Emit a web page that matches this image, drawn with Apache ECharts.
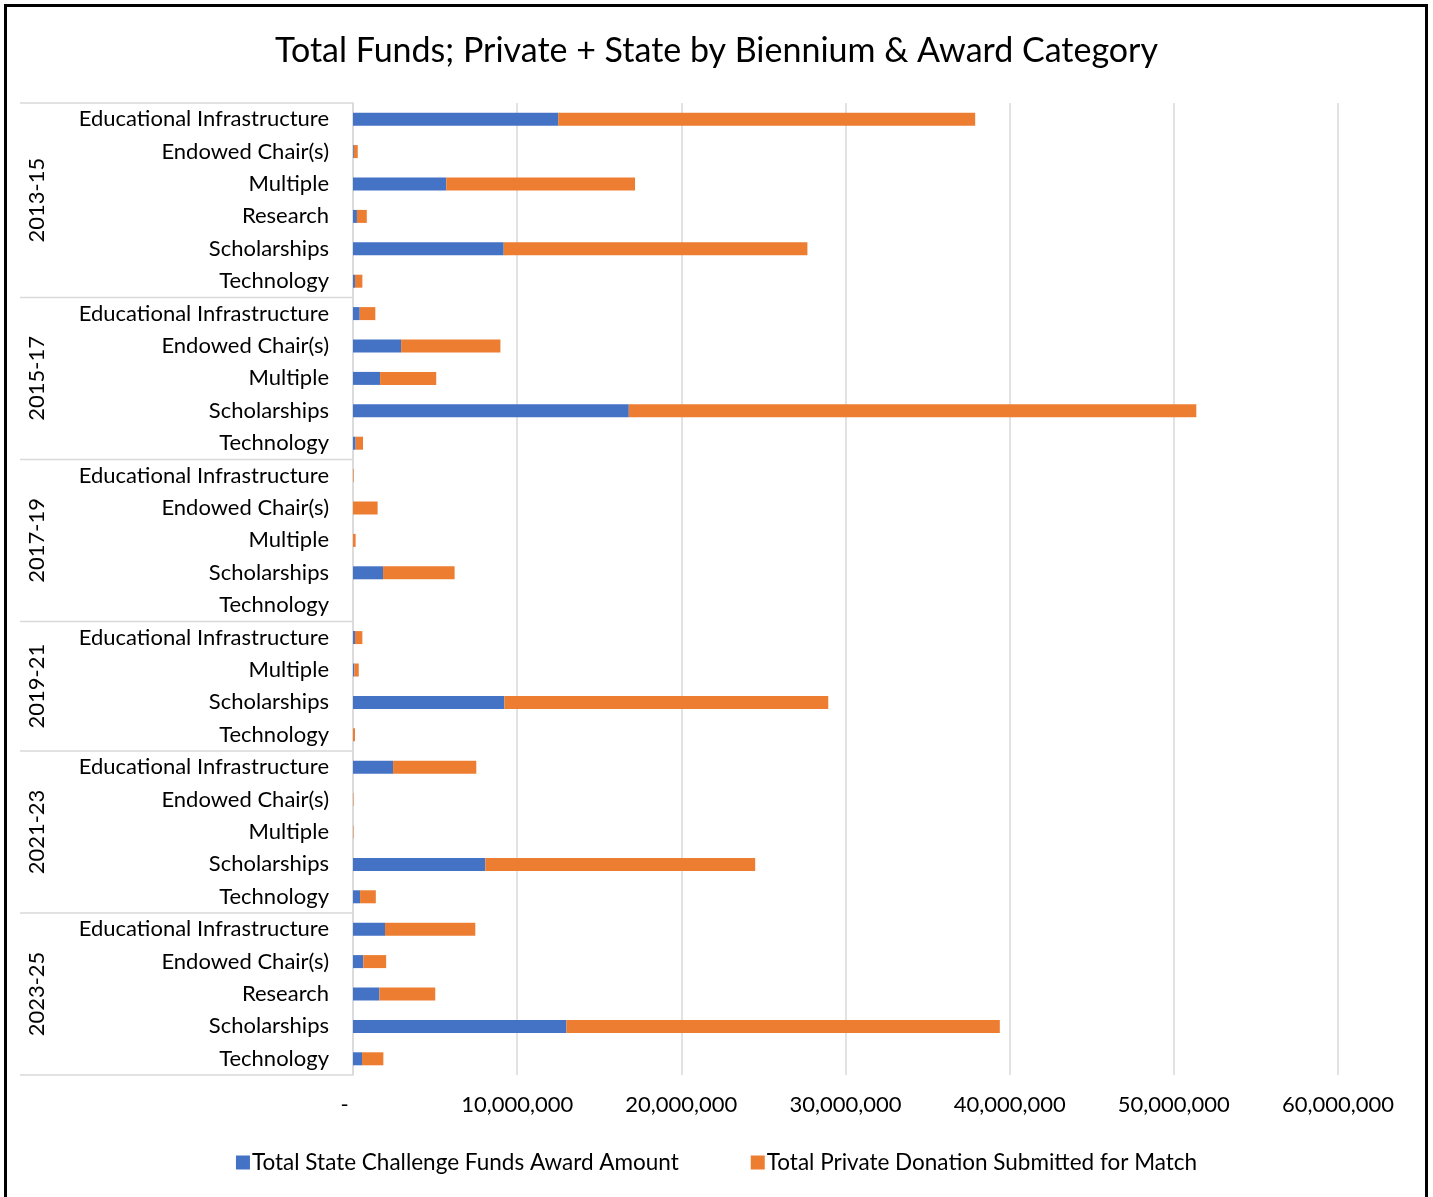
<!DOCTYPE html>
<html>
<head>
<meta charset="utf-8">
<script src="https://cdn.jsdelivr.net/npm/echarts@6/dist/echarts.min.js"></script>
<style>
  html, body { margin: 0; padding: 0; background: #fff; }
  #wrap { position: relative; width: 1433px; height: 1197px; overflow: hidden; }
  #chart { position: absolute; left: 0; top: 0; width: 1433px; height: 1197px; }
  #frame { position: absolute; left: 4px; top: 4px; width: 1424px; height: 1200px; border: 3px solid #000; pointer-events: none; box-sizing: border-box; }
</style>
</head>
<body>
<div id="wrap"><div id="chart"></div><div id="frame"></div></div>
<script>
const titleText = 'Total Funds; Private + State by Biennium & Award Category';
const bienniums = ['2013-15', '2015-17', '2017-19', '2019-21', '2021-23', '2023-25'];
const groupCategories = [
  ['Educational Infrastructure', 'Endowed Chair(s)', 'Multiple', 'Research', 'Scholarships', 'Technology'],
  ['Educational Infrastructure', 'Endowed Chair(s)', 'Multiple', 'Scholarships', 'Technology'],
  ['Educational Infrastructure', 'Endowed Chair(s)', 'Multiple', 'Scholarships', 'Technology'],
  ['Educational Infrastructure', 'Multiple', 'Scholarships', 'Technology'],
  ['Educational Infrastructure', 'Endowed Chair(s)', 'Multiple', 'Scholarships', 'Technology'],
  ['Educational Infrastructure', 'Endowed Chair(s)', 'Research', 'Scholarships', 'Technology']
];
// Total State Challenge Funds Award Amount (per biennium, in order)
const stateFunds = [
  [12500000, 50000, 5680000, 240000, 9180000, 120000],
  [410000, 2930000, 1650000, 16800000, 160000],
  [0, 0, 0, 1830000, 0],
  [120000, 80000, 9220000, 0],
  [2440000, 0, 0, 8060000, 430000],
  [1950000, 630000, 1610000, 13000000, 550000]
];
// Total Private Donation Submitted for Match
const privateFunds = [
  [25400000, 240000, 11500000, 600000, 18500000, 450000],
  [950000, 6050000, 3420000, 34570000, 450000],
  [40000, 1500000, 160000, 4360000, 0],
  [450000, 270000, 19730000, 120000],
  [5070000, 30000, 30000, 16440000, 960000],
  [5500000, 1390000, 3400000, 26400000, 1300000]
];
const xTicks = [0, 10000000, 20000000, 30000000, 40000000, 50000000, 60000000];
const seriesNames = ['Total State Challenge Funds Award Amount', 'Total Private Donation Submitted for Match'];

const FONT = 'Lato';
const keys = [], stateData = [], privateData = [], groupRanges = [];
bienniums.forEach((b, gi) => {
  const start = keys.length;
  groupCategories[gi].forEach((c, ci) => {
    keys.push(b + '|' + c);
    stateData.push(stateFunds[gi][ci]);
    privateData.push(privateFunds[gi][ci]);
  });
  groupRanges.push([start, keys.length - 1]);
});

const chart = echarts.init(document.getElementById('chart'), null, { renderer: 'canvas' });
const option = {
  animation: false,
  backgroundColor: '#fff',
  title: {
    text: titleText, left: 'center', top: 29,
    textStyle: { fontFamily: FONT, fontSize: 34, fontWeight: 'normal', color: '#000' }
  },
  legend: {
    data: seriesNames, left: 'center', top: 1146, itemWidth: 14, itemHeight: 14, itemGap: 72,
    icon: 'rect',
    textStyle: { fontFamily: FONT, fontSize: 22.5, color: '#000', padding: [0, 0, 0, -3] }
  },
  grid: { left: 353, right: 95, top: 103, bottom: 122 },
  xAxis: {
    type: 'value', min: 0, max: 60000000, interval: 10000000,
    axisLine: { show: false }, axisTick: { show: false },
    splitLine: { show: true, lineStyle: { color: '#d9d9d9', width: 1.5 } },
    axisLabel: {
      margin: 19, fontFamily: FONT, fontSize: 22, color: '#000',
      formatter: v => (xTicks.indexOf(v) >= 0 ? (v === 0 ? '-   ' : v.toLocaleString('en-US')) : '')
    }
  },
  yAxis: {
    type: 'category', inverse: true, data: keys,
    axisLine: { show: true, lineStyle: { color: '#d9d9d9', width: 1.5 } },
    axisTick: { show: false },
    axisLabel: { margin: 24, fontFamily: FONT, fontSize: 22, color: '#000', formatter: v => v.split('|')[1] }
  },
  series: [
    { name: seriesNames[0], type: 'bar', stack: 'total', barWidth: 13, data: stateData, itemStyle: { color: '#4472C4' } },
    { name: seriesNames[1], type: 'bar', stack: 'total', barWidth: 13, data: privateData, itemStyle: { color: '#ED7D31' } }
  ]
};
chart.setOption(option);

// Multi-level category axis: group separators and rotated biennium labels
const y0 = chart.convertToPixel({ yAxisIndex: 0 }, 0);
const y1 = chart.convertToPixel({ yAxisIndex: 0 }, 1);
const band = y1 - y0;
const axisX = chart.convertToPixel({ xAxisIndex: 0 }, 0);
const graphics = [];
groupRanges.forEach(([s, e], gi) => {
  const top = chart.convertToPixel({ yAxisIndex: 0 }, s) - band / 2;
  const bot = chart.convertToPixel({ yAxisIndex: 0 }, e) + band / 2;
  graphics.push({ type: 'line', shape: { x1: 20, y1: top, x2: axisX, y2: top }, style: { stroke: '#d9d9d9', lineWidth: 1.5 }, silent: true });
  if (gi === groupRanges.length - 1) {
    graphics.push({ type: 'line', shape: { x1: 20, y1: bot, x2: axisX, y2: bot }, style: { stroke: '#d9d9d9', lineWidth: 1.5 }, silent: true });
  }
  graphics.push({
    type: 'text', x: 37, y: (top + bot) / 2, rotation: Math.PI / 2,
    style: { text: bienniums[gi], fontFamily: FONT, fontSize: 22, fill: '#000', align: 'center', verticalAlign: 'middle' },
    silent: true
  });
});
chart.setOption({ graphic: graphics });
</script>
</body>
</html>
